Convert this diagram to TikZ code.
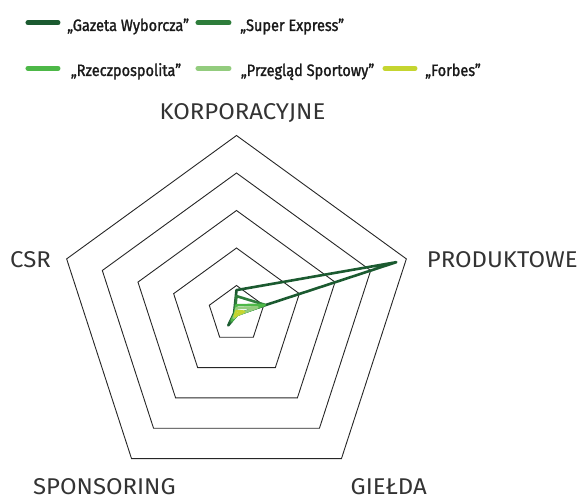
\documentclass[tikz,border=0pt]{standalone}
\usepackage{fontspec}
\setmainfont{Fira Sans}
\newfontfamily\labelfont[FakeStretch=1.05]{Fira Sans}
\newfontfamily\legendfont[FakeStretch=0.88,FakeBold=1.4]{Fira Sans}
\definecolor{gw}{HTML}{1B5A30}
\definecolor{se}{HTML}{2E7D3B}
\definecolor{rz}{HTML}{4DB848}
\definecolor{ps}{HTML}{93CC7E}
\definecolor{fb}{HTML}{C5D530}
\begin{document}
\begin{tikzpicture}[x=1pt,y=1pt,
  siatka/.style={draw=black!85, line width=0.9pt, line join=miter},
  seria/.style={line width=2.6pt, line join=round, line cap=round},
  probka/.style={line width=5pt, line cap=round},
  opis/.style={font=\labelfont\fontsize{22.8}{22.8}\selectfont, text=black!80, inner sep=0pt, anchor=base},
  legenda/.style={font=\legendfont\fontsize{16.5}{16.5}\selectfont, text=black!90, anchor=base west, inner sep=0pt}]
\useasboundingbox (-236.5,-185.9) rectangle (345.5,314.1);

% legenda
\draw[probka, gw] (-208.5,291.4) -- (-178.5,291.4);
\node[legenda] (lgw) at (-169.5,283.1) {„Gazeta Wyborcza”};
\draw[probka, se] (-38.5,291.4) -- (-7.5,291.4);
\node[legenda] (lse) at (3.5,283.1) {„Super Express”};
\draw[probka, rz] (-208.5,245.8) -- (-178.5,245.8);
\node[legenda] (lrz) at (-165.8,238.1) {„Rzeczpospolita”};
\draw[probka, ps] (-38.5,245.8) -- (-7.5,245.8);
\node[legenda] (lps) at (4.2,238.1) {„Przegląd Sportowy”};
\draw[probka, fb] (148.5,245.8) -- (178.5,245.8);
\node[legenda] (lfb) at (188.5,238.1) {„Forbes”};

% siatka
\foreach \r in {28.6,66.1,103.6,141.1,178.6}
  \draw[siatka] (90:\r) -- (18:\r) -- (-54:\r) -- (-126:\r) -- (162:\r) -- cycle;

% osie
\node[opis] (kor) at (6,194.5) {KORPORACYJNE};
\node[opis, anchor=base west] (pro) at (190.2,46.8) {PRODUKTOWE};
\node[opis] (gie) at (152.3,-180.8) {GIEŁDA};
\node[opis] (spo) at (-132.1,-180.8) {SPONSORING};
\node[opis, anchor=base west] (csr) at (-226.5,46.8) {CSR};

% serie
\draw[seria, gw] (90:24) -- (18:168) -- (-54:0.5) -- (-126:14) -- (162:2.5) -- cycle;
\draw[seria, se] (90:18) -- (18:30) -- (-54:1) -- (-126:10) -- (162:2) -- cycle;
\draw[seria, rz] (90:9) -- (18:29.5) -- (-54:1) -- (-126:8) -- (162:1.5) -- cycle;
\draw[seria, ps] (90:6) -- (18:22) -- (-54:1) -- (-126:5) -- (162:1) -- cycle;
\draw[seria, fb] (90:3) -- (18:8) -- (-54:1) -- (-126:3) -- (162:1) -- cycle;
\end{tikzpicture}
\end{document}
